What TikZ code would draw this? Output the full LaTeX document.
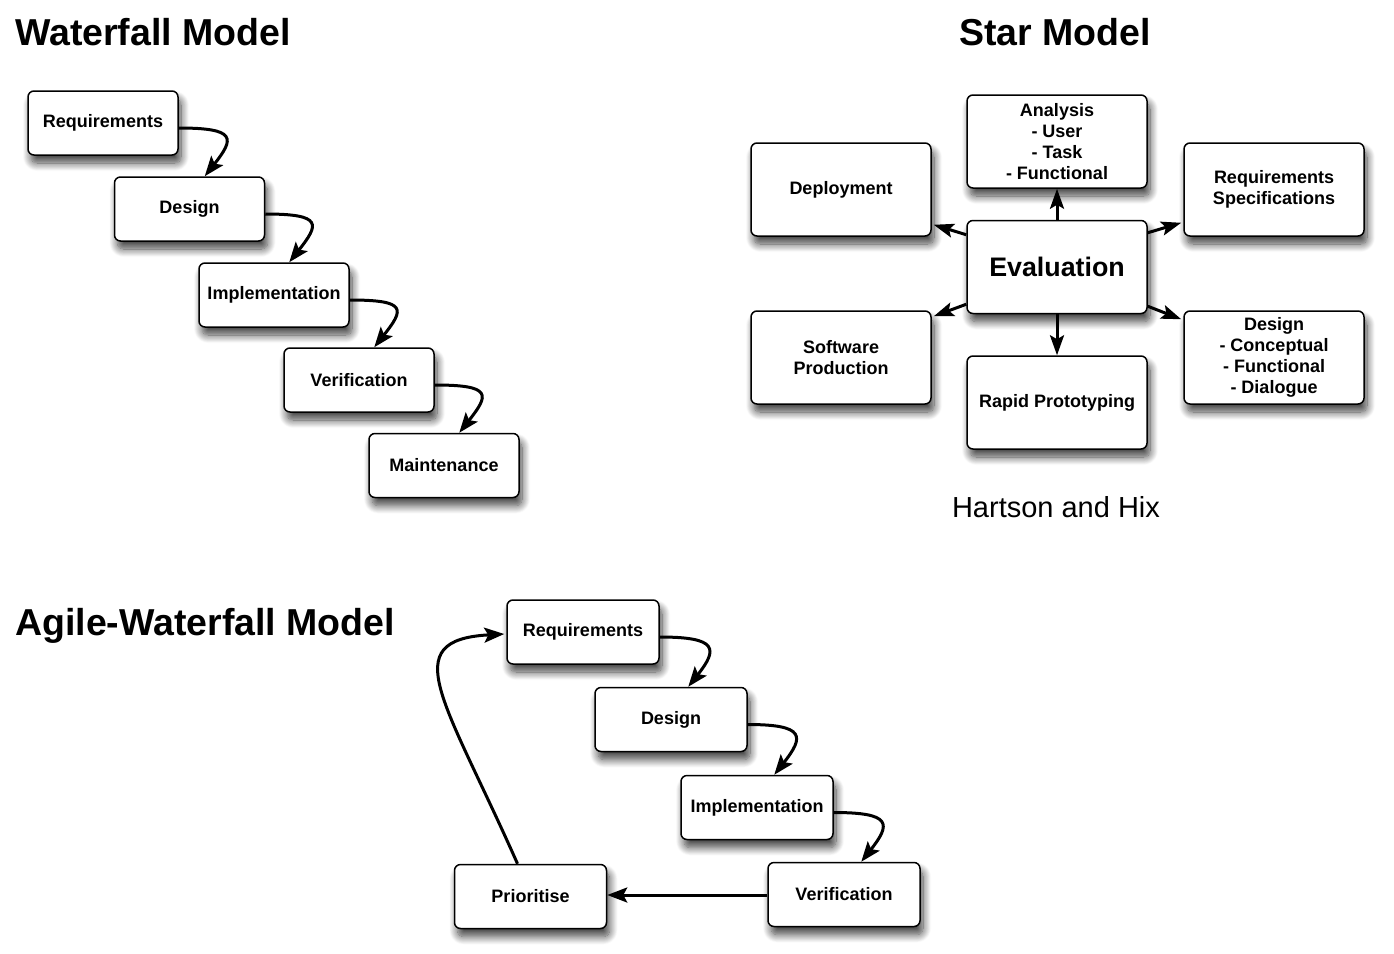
\documentclass[tikz,border=0pt]{standalone}
\usepackage{fontspec}
\setmainfont{Liberation Sans}
\usetikzlibrary{arrows.meta,calc,shadows.blur}

\tikzset{
  box/.style={draw=black, line width=1.5pt, fill=white, rounded corners=6pt,
    minimum width=150pt, minimum height=64pt, inner sep=2pt, align=center,
    font=\fontsize{18}{21}\selectfont\bfseries,
    blur shadow={shadow xshift=3pt, shadow yshift=-8pt, shadow blur radius=8pt,
      shadow blur steps=12, shadow opacity=75}},
  starbox/.style={box, minimum width=180pt, minimum height=93pt},
  title/.style={anchor=base west, inner sep=0pt, font=\fontsize{37.5}{42}\selectfont\bfseries},
  flow/.style={line width=3pt, -{Stealth[length=20pt,width=15pt,inset=4pt]}},
  link/.style={line width=3pt, -{Stealth[length=20pt,width=14pt,inset=4pt]}},
}

\begin{document}
\begin{tikzpicture}[x=1pt,y=-1pt]
\useasboundingbox (0,0) rectangle (1394,953);

% ---------------- Waterfall model ----------------
\node[title] (wtitle) at (15,45) {Waterfall Model};
\node[box] (wreq)  at (103,123)   {Requirements};
\node[box] (wdes)  at (189.5,209) {Design};
\node[box] (wimp)  at (274,295)   {Implementation};
\node[box] (wver)  at (359,380)   {Verification};
\node[box] (wmai)  at (444,465.5) {Maintenance};

\foreach \a/\b in {wreq/wdes, wdes/wimp, wimp/wver, wver/wmai}
  \draw[flow] ($(\a.east)+(0,5)$) .. controls +(58,0) and +(30,-38) .. ($(\b.north west)+(91,0)$);

% ---------------- Star model ----------------
\node[title, anchor=base] (stitle) at (1055,45) {Star Model};
\node[starbox] (eval)   at (1057,267)   {\fontsize{26.8}{30}\selectfont Evaluation};
\node[starbox] (ana)    at (1057,141.5) {Analysis\\- User\\- Task\\- Functional};
\node[starbox] (dep)    at (841,189.5)  {Deployment};
\node[starbox] (rspec)  at (1274,189.5) {Requirements\\Specifications};
\node[starbox] (soft)   at (841,357.5)  {Software\\Production};
\node[starbox] (rapid)  at (1057,402.5) {Rapid Prototyping};
\node[starbox] (sdes)   at (1274,357.5) {Design\\- Conceptual\\- Functional\\- Dialogue};
\node[anchor=base, inner sep=0pt, font=\fontsize{29}{33}\selectfont] (hh) at (1056,517) {Hartson and Hix};

\draw[link] (eval.north) -- (ana.south);
\draw[link] (eval.south) -- (rapid.north);
\draw[link] ($(eval.north west)+(0,15)$) -- ($(dep.south east)+(2,-12)$);
\draw[link] ($(eval.north east)+(0,13)$) -- ($(rspec.south west)+(-2,-14)$);
\draw[link] ($(eval.south west)+(0,-10)$) -- ($(soft.north east)+(2,6)$);
\draw[link] ($(eval.south east)+(0,-8)$) -- ($(sdes.north west)+(-2,9)$);

% ---------------- Agile-Waterfall model ----------------
\node[title] (atitle) at (15,635) {Agile-Waterfall Model};
\node[box, minimum width=152pt] (areq) at (583,632)   {Requirements};
\node[box, minimum width=152pt] (ades) at (671,719.5) {Design};
\node[box, minimum width=152pt] (aimp) at (757,807.5) {Implementation};
\node[box, minimum width=152pt] (aver) at (844,894.5) {Verification};
\node[box, minimum width=152pt] (apri) at (530.5,896.5) {Prioritise};

\foreach \a/\b in {areq/ades, ades/aimp, aimp/aver}
  \draw[flow] ($(\a.east)+(0,5)$) .. controls +(58,0) and +(30,-38) .. ($(\b.north west)+(94,0)$);

\draw[flow] (aver.west |- 0,895) -- (apri.east |- 0,895);
\draw[flow] ($(apri.north)+(-13,0)$) .. controls (445,700) and (395,640) .. ($(areq.west)+(-2,2)$);

\end{tikzpicture}
\end{document}
